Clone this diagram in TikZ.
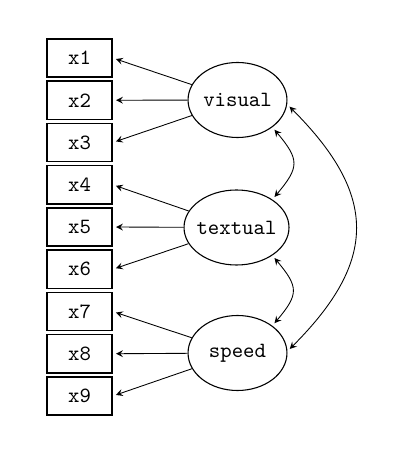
\documentclass[tikz,border=0pt]{standalone}
\usetikzlibrary{arrows,shapes}
\tikzstyle{edge}=[shorten >=1.5pt, >=stealth, line width=0.4pt]
\tikzstyle{cov}=[shorten <=1.5pt, shorten >=1.5pt, >=stealth, line width=0.4pt]
\tikzstyle{obsV}=[rectangle, draw, minimum width=29.9pt, minimum height=17.5pt, line width=0.7pt, inner sep=0pt, font=\ttfamily\fontsize{10}{12}\selectfont]
\tikzstyle{latV}=[ellipse, draw, minimum width=45.5pt, minimum height=34.5pt, line width=0.5pt, inner xsep=-1.3pt, inner ysep=0pt, font=\ttfamily\fontsize{10}{12}\selectfont]

\begin{document}
\begin{tikzpicture}[x=0.46pt, y=0.46pt]
      \useasboundingbox (0,0) rectangle (405,-459);
      \node(x1) [obsV] at (79.5, -58){x1};
      \node(x2) [obsV] at (79.5, -100.25){x2};
      \node(x3) [obsV] at (79.5, -142.5){x3};
      \node(x4) [obsV] at (79.5, -184.75){x4};
      \node(x5) [obsV] at (79.5, -227){x5};
      \node(x6) [obsV] at (79.5, -269.25){x6};
      \node(x7) [obsV] at (79.5, -311.5){x7};
      \node(x8) [obsV] at (79.5, -353.75){x8};
      \node(x9) [obsV] at (79.5, -396){x9};
      \node(visual) [latV] at (237.5, -100){visual};
      \node(textual) [latV] at (236.5, -227.5){textual};
      \node(speed) [latV] at (237.5, -353){speed};
      \draw[edge,->] (visual) to (x1.east);
      \draw[edge,->] (visual) to (x2.east);
      \draw[edge,->] (visual) to (x3.east);
      \draw[edge,->] (textual) to (x4.east);
      \draw[edge,->] (textual) to (x5.east);
      \draw[edge,->] (textual) to (x6.east);
      \draw[edge,->] (speed) to (x7.east);
      \draw[edge,->] (speed) to (x8.east);
      \draw[edge,->] (speed) to (x9.east);
      \draw[cov,<->] (visual.-38) to[out=-50, in=50, looseness=1.5] (textual.38);
      \draw[cov,<->] (textual.-38) to[out=-50, in=50, looseness=1.5] (speed.38);
      \draw[cov,<->] (visual.-5) to[out=-45, in=45, looseness=1.33] (speed.2);
    \end{tikzpicture}
\end{document}
